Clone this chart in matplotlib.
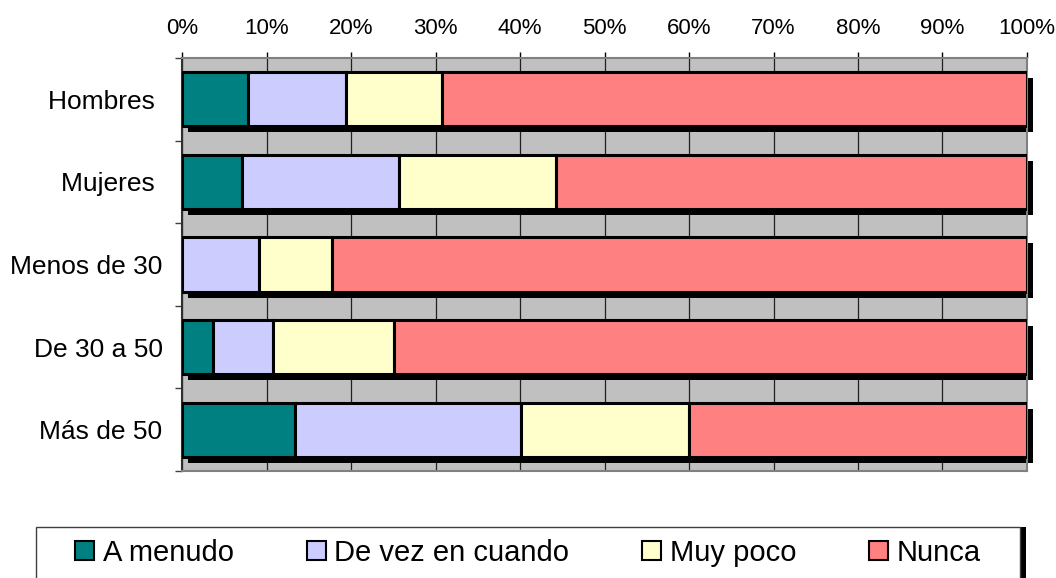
import numpy as np
import matplotlib
matplotlib.use("Agg")
import matplotlib.pyplot as plt
from matplotlib.patches import Rectangle
from matplotlib.transforms import ScaledTranslation

plt.rcParams['font.family'] = ['Liberation Sans', 'DejaVu Sans']

# data (percent of each group)
groups = ['Hombres ', 'Mujeres ', 'Menos de 30', 'De 30 a 50', 'Más de 50']
a_menudo = [7.8, 7.1, 0.0, 3.7, 13.4]
de_vez = [11.6, 18.6, 9.1, 7.1, 26.7]
muy_poco = [11.4, 18.6, 8.6, 14.3, 19.9]
nunca = [69.2, 55.7, 82.3, 74.9, 40.0]
series = ['A menudo', 'De vez en cuando', 'Muy poco', 'Nunca']
colors = ['#008080', '#CCCCFF', '#FFFFCC', '#FF8080']
xticks = np.arange(0, 101, 10)

W, H = 1056, 578
fig = plt.figure(figsize=(W/100, H/100), dpi=100)
ax = fig.add_axes([182/W, 1 - 471/H, (1027-182)/W, (471-58)/H])
ax.set_facecolor('#C0C0C0')

y = np.arange(len(groups))
h = 0.655

# black drop shadow behind each full bar
totals = np.array(a_menudo) + np.array(de_vez) + np.array(muy_poco) + np.array(nunca)
shift = ax.transData + ScaledTranslation(6/100, -6/100, fig.dpi_scale_trans)
ax.barh(y, totals, height=h, color='black', transform=shift, zorder=2, clip_on=False)

left = np.zeros(len(groups))
for name, vals, c in zip(series, [a_menudo, de_vez, muy_poco, nunca], colors):
    ax.barh(y, vals, left=left, height=h, color=c, edgecolor='black',
            linewidth=2.2, zorder=3, label=name)
    left += np.array(vals)

ax.set_xlim(0, 100)
ax.set_ylim(len(groups) - 0.5, -0.5)

ax.xaxis.tick_top()
ax.set_xticks(xticks)
ax.set_xticklabels([f'{v}%' for v in xticks], fontsize=16)
ax.tick_params(axis='x', direction='out', length=4.5, width=1, pad=9, color='black')

ax.set_yticks(y)
ax.set_yticklabels(groups, fontsize=19)
ax.set_yticks(np.arange(-0.5, len(groups)), minor=True)
ax.tick_params(axis='y', which='major', length=0, pad=14)
ax.tick_params(axis='y', which='minor', direction='out', length=5, width=1, color='#404040')

ax.grid(axis='x', color='#202020', linewidth=0.9, zorder=1)
ax.set_axisbelow(True)
for s in ['top', 'right', 'bottom']:
    ax.spines[s].set_color('#808080')
    ax.spines[s].set_linewidth(1.5)
ax.spines['left'].set_color('#303030')
ax.spines['left'].set_linewidth(1.5)

# legend box with black shadow, drawn in figure pixels
fig.patches.append(Rectangle((42/W, -10/H), 984/W, 61/H, facecolor='black',
                             edgecolor='none', transform=fig.transFigure, zorder=0))
fig.patches.append(Rectangle((36/W, -4/H), 984/W, 55/H, facecolor='white',
                             edgecolor='#404040', linewidth=1.0,
                             transform=fig.transFigure, zorder=1))

handles = [Rectangle((0, 0), 1, 1, facecolor=c, edgecolor='black', linewidth=1.5) for c in colors]
leg = fig.legend(handles, series, loc='center left', ncol=4,
                 bbox_to_anchor=(75/W, 25/H), fontsize=21, frameon=False,
                 handlelength=0.65, handleheight=0.65, handletextpad=0.3,
                 columnspacing=2.5, borderpad=0, borderaxespad=0)
leg.set_zorder(5)

fig.savefig('out.png', dpi=100)
